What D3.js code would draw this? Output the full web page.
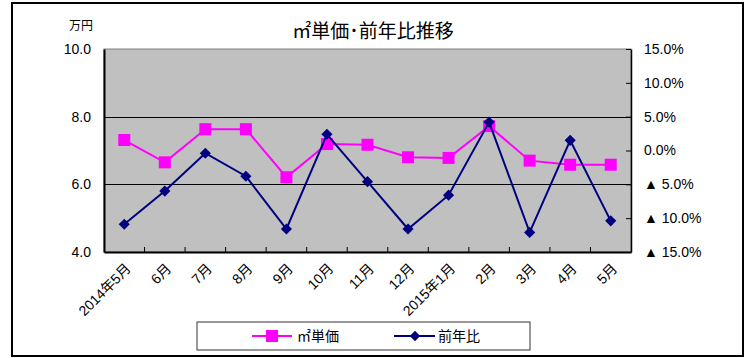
<!DOCTYPE html>
<html><head><meta charset="utf-8">
<script src="https://cdn.jsdelivr.net/npm/d3@7"></script>
<style>
html,body{margin:0;padding:0;background:#fff;}
text{font-family:"Liberation Sans","Noto Sans CJK JP",sans-serif;fill:#000;}
</style></head><body>
<svg id="c" width="751" height="358"></svg>
<script>
const categories = ["2014年5月","6月","7月","8月","9月","10月","11月","12月","2015年1月","2月","3月","4月","5月"];
const unitPrice = [7.31,6.65,7.63,7.63,6.21,7.19,7.17,6.80,6.78,7.72,6.70,6.58,6.58];
const yoy = [-10.9,-6.0,-0.4,-3.8,-11.6,2.4,-4.6,-11.6,-6.6,4.2,-12.1,1.5,-10.4];
const leftTicks = [4,6,8,10];
const rightTicks = [15,10,5,0,-5,-10,-15];
const seriesNames = ["㎡単価","前年比"];
const titleText = "㎡単価･前年比推移";
const unitText = "万円";

const svg = d3.select("#c");
const L = 104, R = 631, T = 49, B = 252;

// outer border
svg.append("rect").attr("x",12).attr("y",3).attr("width",731).attr("height",353)
  .attr("fill","#fff").attr("stroke","#000").attr("stroke-width",2);

const x = d3.scaleBand().domain(categories).range([L,R]);
const yL = d3.scaleLinear().domain([4,10]).range([B,T]);
const yR = d3.scaleLinear().domain([-15,15]).range([B,T]);

// plot bg
svg.append("rect").attr("x",L).attr("y",T).attr("width",R-L).attr("height",B-T)
  .attr("fill","#C0C0C0").attr("stroke","#808080").attr("stroke-width",1);

// gridlines
svg.append("g").selectAll("line").data(leftTicks.filter(d=>d>4&&d<10)).join("line")
  .attr("x1",L).attr("x2",R).attr("y1",d=>Math.round(yL(d))+0.5).attr("y2",d=>Math.round(yL(d))+0.5)
  .attr("stroke","#000").attr("stroke-width",1);

// left axis
const gl = svg.append("g").attr("transform",`translate(${L},0)`)
  .call(d3.axisLeft(yL).tickValues(leftTicks).tickFormat(d3.format(".1f")).tickSize(0).tickPadding(13));
gl.select(".domain").attr("stroke","#000").attr("stroke-width",2);
gl.selectAll("text").style("font-size","14px");

// right axis
const gr = svg.append("g").attr("transform",`translate(${R},0)`)
  .call(d3.axisRight(yR).tickValues(rightTicks).tickSizeInner(-5).tickSizeOuter(0).tickPadding(13)
    .tickFormat(d => d<0 ? "▲ "+Math.abs(d).toFixed(1)+"%" : d.toFixed(1)+"%"));
gr.select(".domain").attr("stroke","#000").attr("stroke-width",1.5);
gr.selectAll(".tick line").attr("stroke","#000");
gr.selectAll("text").style("font-size","14px");

// bottom axis
const gb = svg.append("g").attr("transform",`translate(0,${B})`)
  .call(d3.axisBottom(x).tickSize(0).tickPadding(0));
gb.select(".domain").attr("stroke","#000").attr("stroke-width",2);
gb.selectAll("text").remove();
gb.selectAll(".tick").append("text")
  .attr("transform","translate(4,14) rotate(-45)")
  .attr("text-anchor","end").attr("dy","0.35em")
  .style("font-size","14px").text(d=>d);
// category separator ticks (inward)
svg.append("g").selectAll("line").data(categories.slice(1)).join("line")
  .attr("x1",d=>x(d)).attr("x2",d=>x(d)).attr("y1",B).attr("y2",B-5)
  .attr("stroke","#000");

const cx = d => x(d)+x.bandwidth()/2;

// unit price line
svg.append("path").datum(unitPrice)
  .attr("d", d3.line().x((d,i)=>cx(categories[i])).y(d=>yL(d)))
  .attr("fill","none").attr("stroke","#FF00FF").attr("stroke-width",2);
svg.append("g").selectAll("rect").data(unitPrice).join("rect")
  .attr("x",(d,i)=>cx(categories[i])-6).attr("y",d=>yL(d)-6)
  .attr("width",12).attr("height",12).attr("fill","#FF00FF");

// yoy line
svg.append("path").datum(yoy)
  .attr("d", d3.line().x((d,i)=>cx(categories[i])).y(d=>yR(d)))
  .attr("fill","none").attr("stroke","#000080").attr("stroke-width",2);
svg.append("g").selectAll("path").data(yoy).join("path")
  .attr("transform",(d,i)=>`translate(${cx(categories[i])},${yR(d)}) rotate(45)`)
  .attr("d", d3.symbol().type(d3.symbolSquare).size(62)())
  .attr("fill","#000080");

// title
svg.append("text").attr("x",373).attr("y",38).attr("text-anchor","middle")
  .style("font-size","19px").style("font-family","'Noto Sans CJK JP',sans-serif").text(titleText);
svg.append("text").attr("x",81).attr("y",30).attr("text-anchor","middle")
  .style("font-size","12px").style("font-family","'Noto Sans CJK JP',sans-serif").text(unitText);

// legend
const lg = svg.append("g");
lg.append("rect").attr("x",197).attr("y",322).attr("width",333).attr("height",28)
  .attr("fill","#fff").attr("stroke","#333").attr("stroke-width",1);
lg.append("line").attr("x1",252).attr("x2",292).attr("y1",336).attr("y2",336).attr("stroke","#FF00FF").attr("stroke-width",2);
lg.append("rect").attr("x",266).attr("y",330).attr("width",12).attr("height",12).attr("fill","#FF00FF");
lg.append("text").attr("x",297).attr("y",341).style("font-size","14px")
  .style("font-family","'Noto Sans CJK JP',sans-serif").text(seriesNames[0]);
lg.append("line").attr("x1",394).attr("x2",435).attr("y1",336).attr("y2",336).attr("stroke","#000080").attr("stroke-width",2);
lg.append("path").attr("transform","translate(415,336) rotate(45)")
  .attr("d", d3.symbol().type(d3.symbolSquare).size(55)()).attr("fill","#000080");
lg.append("text").attr("x",438).attr("y",341).style("font-size","14px")
  .style("font-family","'Noto Sans CJK JP',sans-serif").text(seriesNames[1]);
</script>
</body></html>
